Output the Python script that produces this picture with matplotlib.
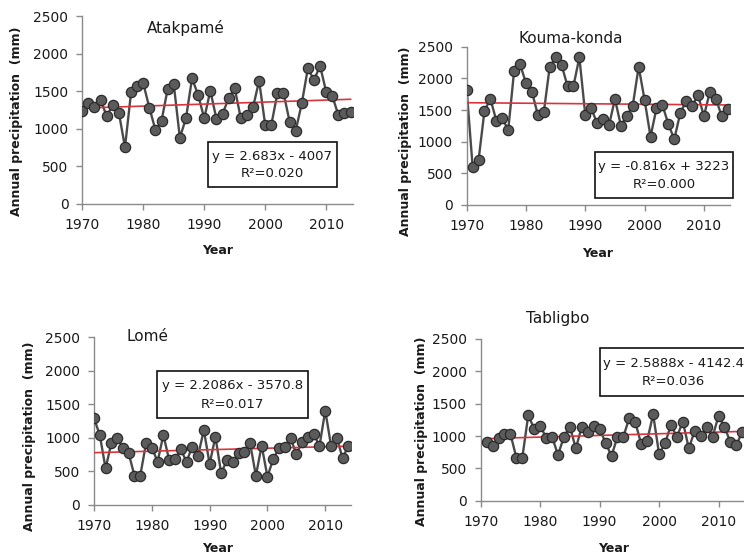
import numpy as np
import matplotlib
matplotlib.use("Agg")
import matplotlib.pyplot as plt
from matplotlib.patches import Rectangle

plt.rcParams['font.family'] = ['DejaVu Sans']

years_a = list(range(1970, 2015))
atakpame = [1244, 1351, 1289, 1387, 1173, 1320, 1218, 756, 1489, 1573,
            1609, 1284, 986, 1111, 1533, 1596, 884, 1142, 1675, 1453,
            1142, 1511, 1135, 1200, 1409, 1542, 1142, 1186, 1289, 1644,
            1053, 1053, 1476, 1484, 1098, 978, 1342, 1809, 1653, 1840,
            1497, 1440, 1187, 1218, 1231]

years_k = list(range(1970, 2015))
kouma = [1816, 605, 711, 1489, 1674, 1332, 1368, 1184, 2121, 2226,
         1921, 1789, 1421, 1463, 2184, 2331, 2210, 1879, 1879, 2331,
         1421, 1526, 1289, 1353, 1263, 1674, 1253, 1410, 1568, 2184,
         1658, 1079, 1526, 1579, 1279, 1037, 1447, 1642, 1563, 1737,
         1405, 1784, 1679, 1405, 1510]

years_l = list(range(1970, 2015))
lome = [1292, 1044, 547, 919, 1004, 855, 770, 437, 437, 919,
        855, 646, 1044, 671, 686, 830, 646, 870, 735, 1118,
        611, 1019, 472, 671, 646, 770, 795, 919, 437, 885,
        422, 686, 845, 870, 994, 760, 934, 1009, 1059, 880,
        1407, 885, 1004, 696, 885]

years_t = list(range(1971, 2015))
tabligbo = [902, 851, 974, 1031, 1031, 665, 665, 1325, 1108,
            1160, 974, 990, 706, 990, 1144, 809, 1144, 1057, 1160,
            1108, 897, 691, 990, 990, 1284, 1211, 876, 928, 1335,
            722, 887, 1170, 990, 1222, 809, 1083, 1005, 1134, 990,
            1309, 1144, 902, 861, 1067]

stations = ["Atakpamé", "Kouma-konda", "Lomé", "Tabligbo"]
slopes = [2.683, -0.816, 2.2086, 2.5888]
intercepts = [-4007, 3223, -3570.8, -4142.4]
eq_texts = ["y = 2.683x - 4007", "y = -0.816x + 3223",
            "y = 2.2086x - 3570.8", "y = 2.5888x - 4142.4"]
r2_texts = ["R²=0.020", "R²=0.000", "R²=0.017", "R²=0.036"]
yticks = [0, 500, 1000, 1500, 2000, 2500]
xticks = [1970, 1980, 1990, 2000, 2010]

W, H = 744, 557
fig = plt.figure(figsize=(W / 100, H / 100), dpi=100)


def px_axes(x0, x1, y_bottom, y_top):
    return fig.add_axes([x0 / W, 1 - y_bottom / H, (x1 - x0) / W, (y_bottom - y_top) / H])


# (x of 1970, x of 2014, y of 0, y of 2500) in pixels
geoms = [(82.3, 353.0, 204.0, 16.5),
         (466.7, 730.0, 205.0, 46.7),
         (94.0, 350.7, 505.0, 337.3),
         (480.7, 744.7, 500.7, 339.0)]
titles_px = [(186.0, 27.5), (570.3, 38.3), (147.0, 336.7), (557.5, 319.0)]
boxes_px = [(208, 337, 141.7, 186.7), (594.7, 733, 151.7, 198.3),
            (156.7, 308.3, 370.7, 418.3), (600.3, 752, 348.3, 395.7)]
# x anchor and alignment of the equation line
eq_anchor = [None, None, None, (603.0, 'left')]
r2_anchor = [None, None, None, 673.7]
ylab_px = [(17.0, 121.7), (405.3, 141.7), (30.0, 435.8), (422.0, 430.8)]
xlab_px = [(217.5, 251.0), (597.8, 254.0), (217.5, 548.5), (614.0, 548.3)]

data = [(years_a, atakpame), (years_k, kouma), (years_l, lome), (years_t, tabligbo)]

axis_col = '#8a8a8a'
txt_col = '#1a1a1a'

for i, ((xs, ys), (x0, x1, yb, yt)) in enumerate(zip(data, geoms)):
    ax = px_axes(x0, x1, yb, yt)
    ax.set_xlim(1970, 2014.4)
    ax.set_ylim(0, 2500)
    ax.patch.set_alpha(0)
    for s in ['top', 'right']:
        ax.spines[s].set_visible(False)
    for s in ['left', 'bottom']:
        ax.spines[s].set_color(axis_col)
        ax.spines[s].set_linewidth(1.0)
    ax.set_xticks(xticks)
    ax.set_yticks(yticks)
    ax.tick_params(axis='both', colors=axis_col, labelcolor=txt_col,
                   labelsize=10, length=4, width=1.0, direction='out')
    ax.tick_params(axis='x', pad=6)
    ax.tick_params(axis='y', pad=6)

    ax.plot(xs, ys, color='#4a4a4a', lw=1.7, zorder=2)
    tx = np.array([xs[0], xs[-1]])
    ax.plot(tx, slopes[i] * tx + intercepts[i], color='#d8343c', lw=1.2, zorder=3)
    ax.plot(xs, ys, linestyle='none', marker='o', markersize=7.4,
            markerfacecolor='#5b5b5b', markeredgecolor='#2b2b2b',
            markeredgewidth=0.9, zorder=4)

    ax.set_ylabel("Annual precipitation  (mm)", fontsize=9, fontweight='bold', color=txt_col)
    ax.set_xlabel("Year", fontsize=9, fontweight='bold', color=txt_col)
    lx, ly = ylab_px[i]
    ax.yaxis.set_label_coords((lx - x0) / (x1 - x0), (yb - ly) / (yb - yt))
    ax.xaxis.label.set_verticalalignment('center')
    ax.yaxis.label.set_verticalalignment('center')
    xx, xy = xlab_px[i]
    ax.xaxis.set_label_coords((xx - x0) / (x1 - x0), (yb - xy) / (yb - yt))

    tpx, tpy = titles_px[i]
    fig.text(tpx / W, 1 - tpy / H, stations[i], fontsize=11, color=txt_col,
             ha='center', va='center')

    bx0, bx1, by0, by1 = boxes_px[i]
    fig.patches.append(Rectangle((bx0 / W, 1 - by1 / H), (bx1 - bx0) / W, (by1 - by0) / H,
                                 transform=fig.transFigure, facecolor='white',
                                 edgecolor='#111111', linewidth=1.2, zorder=5))
    cx = (bx0 + bx1) / 2
    if eq_anchor[i] is None:
        ex, eha = cx, 'center'
    else:
        ex, eha = eq_anchor[i]
    rx = cx if r2_anchor[i] is None else r2_anchor[i]
    fig.text(ex / W, 1 - (by0 + (by1 - by0) * 0.32) / H, eq_texts[i], fontsize=9.5,
             color=txt_col, ha=eha, va='center', zorder=6)
    fig.text(rx / W, 1 - (by0 + (by1 - by0) * 0.70) / H, r2_texts[i], fontsize=9.5,
             color=txt_col, ha='center', va='center', zorder=6)

fig.savefig("out.png", dpi=100, facecolor='white')
